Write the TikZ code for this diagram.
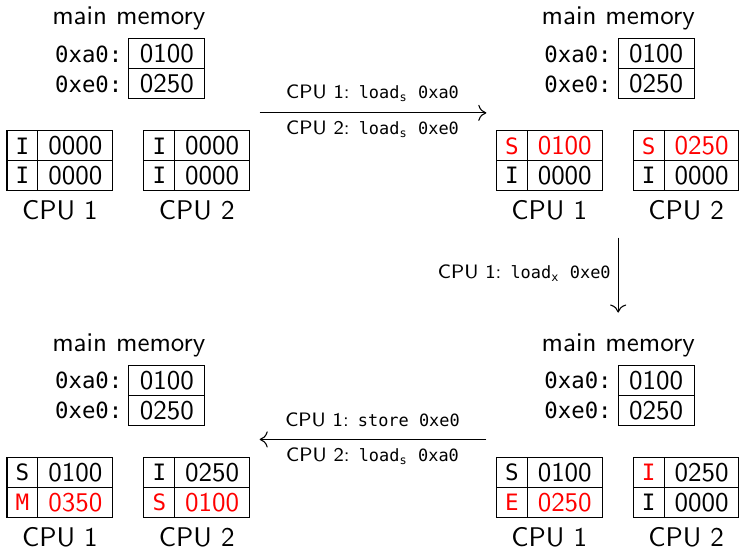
\documentclass[tikz,border=0pt]{standalone}
\usepackage{fontspec}
\setmonofont[Scale=0.87]{DejaVu Sans Mono}
\usetikzlibrary{arrows.meta}
\newcommand\rd[1]{\textcolor{red}{#1}}
\newcommand\ld[2]{\texttt{load}\textsubscript{\ttfamily #1}\texttt{ #2}}
\newcommand\panel[8]{%
  \node[title] (mm) at (129,25) {main memory};
  \node[mem] (ma) at (167,54) {0100};
  \node[mem] (me) at (167,84) {0250};
  \node[addr] (la) at (123,54) {0xa0:};
  \node[addr] (le) at (123,84) {0xe0:};
  \node[st] (a1s) at (22.5,146) {#1};
  \node[val] (a1v) at (75.5,146) {#2};
  \node[st] (a2s) at (22.5,176) {#3};
  \node[val] (a2v) at (75.5,176) {#4};
  \node[st] (b1s) at (159.5,146) {#5};
  \node[val] (b1v) at (212.5,146) {#6};
  \node[st] (b2s) at (159.5,176) {#7};
  \node[val] (b2v) at (212.5,176) {#8};
  \node[title] (ca) at (60,220) {CPU 1};
  \node[title] (cb) at (197,220) {CPU 2};
}
\begin{document}
\begin{tikzpicture}[x=0.37pt,y=-0.37pt,font=\sffamily,
  cell/.style={draw, line width=0.4pt, inner sep=0pt, minimum height=30*0.37pt, anchor=center},
  st/.style={cell, minimum width=31*0.37pt, font=\ttfamily\fontsize{9.6}{11}\selectfont},
  val/.style={cell, minimum width=75*0.37pt},
  mem/.style={cell, minimum width=76*0.37pt},
  addr/.style={anchor=east, inner sep=0pt, font=\ttfamily\fontsize{9.5}{11}\selectfont},
  title/.style={anchor=base, inner sep=0pt},
  op/.style={anchor=base, inner sep=0pt, font=\fontsize{7.2}{8}\selectfont\sffamily},
  conn/.style={-{To[length=3pt,width=6pt]}, line width=0.4pt}]
\useasboundingbox (0,0) rectangle (740,549);
% top left
\begin{scope}[name prefix=tl-]
  \panel{I}{0000}{I}{0000}{I}{0000}{I}{0000}
\end{scope}
% top right
\begin{scope}[shift={(490,0)}, name prefix=tr-]
  \panel{\rd{S}}{\rd{0100}}{I}{0000}{\rd{S}}{\rd{0250}}{I}{0000}
\end{scope}
% bottom right
\begin{scope}[shift={(490,327)}, name prefix=br-]
  \panel{S}{0100}{\rd{E}}{\rd{0250}}{\rd{I}}{0250}{I}{0000}
\end{scope}
% bottom left
\begin{scope}[shift={(0,327)}, name prefix=bl-]
  \panel{S}{0100}{\rd{M}}{\rd{0350}}{I}{0250}{\rd{S}}{\rd{0100}}
\end{scope}
% connectors
\coordinate (t1) at (260,113);
\coordinate (t2) at (487,113);
\draw[conn] (t1) -- (t2);
\node[op] (t1a) at (373,99) {CPU 1: \ld{s}{0xa0}};
\node[op] (t1b) at (373,135) {CPU 2: \ld{s}{0xe0}};
\coordinate (v1) at (619,238);
\coordinate (v2) at (619,313);
\draw[conn] (v1) -- (v2);
\node[op, anchor=base east] (v1a) at (612,279) {CPU 1: \ld{x}{0xe0}};
\coordinate (b1) at (487,440);
\coordinate (b2) at (260,440);
\draw[conn] (b1) -- (b2);
\node[op] (b1a) at (373,427) {CPU 1: \texttt{store 0xe0}};
\node[op] (b1b) at (373,462) {CPU 2: \ld{s}{0xa0}};
\end{tikzpicture}
\end{document}
